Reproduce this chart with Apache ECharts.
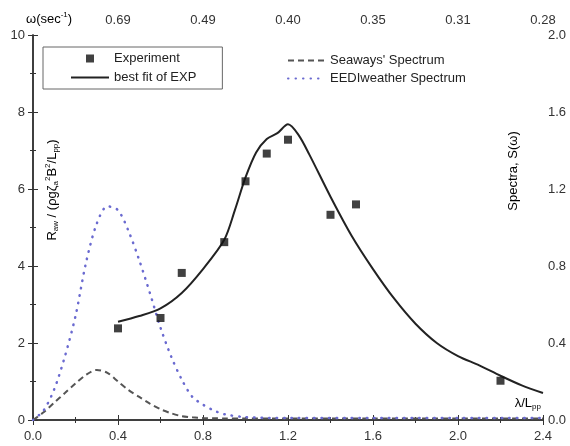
<!DOCTYPE html>
<html lang="en">
<head>
  <meta charset="UTF-8">
  <title>Added resistance vs wave length</title>
  <script src="https://cdn.jsdelivr.net/npm/echarts@6.0.0/dist/echarts.min.js"></script>
  <style>
    html, body { margin: 0; padding: 0; background: #fff; }
    #chart { width: 570px; height: 446px; }
  </style>
</head>
<body>
  <div id="chart"></div>
  <script>
    // experiment points
    const expLambda = [0.4, 0.6, 0.7, 0.9, 1.0, 1.1, 1.2, 1.4, 1.52, 2.2];
    const expRaw = [2.38, 2.65, 3.82, 4.62, 6.2, 6.92, 7.28, 5.33, 5.6, 1.02];

    // best fit curve
    const fitLambda = [0.4, 0.5, 0.6, 0.7, 0.8, 0.9, 0.95, 1.0, 1.05, 1.1, 1.15, 1.2, 1.25, 1.3, 1.4, 1.5, 1.6, 1.7, 1.8, 1.9, 2.0, 2.1, 2.2, 2.3, 2.4];
    const fitRaw = [2.55, 2.7, 2.9, 3.3, 3.92, 4.68, 5.45, 6.3, 6.95, 7.3, 7.45, 7.68, 7.4, 6.9, 5.8, 4.78, 3.92, 3.15, 2.5, 2.0, 1.66, 1.42, 1.15, 0.9, 0.7];

    // wave spectra (right axis)
    const specLambda = [0, 0.05, 0.1, 0.15, 0.2, 0.25, 0.3, 0.35, 0.4, 0.45, 0.5, 0.55, 0.6, 0.65, 0.7, 0.75, 0.8, 0.85, 0.9, 1.0, 1.2, 1.6, 2.0, 2.4];
    const seaways = [0, 0.04, 0.09, 0.14, 0.19, 0.235, 0.26, 0.245, 0.2, 0.155, 0.12, 0.085, 0.056, 0.035, 0.02, 0.014, 0.01, 0.009, 0.008, 0.008, 0.008, 0.008, 0.008, 0.008];
    const eedi = [0, 0.05, 0.16, 0.33, 0.54, 0.82, 1.02, 1.11, 1.09, 0.98, 0.83, 0.66, 0.48, 0.33, 0.21, 0.12, 0.08, 0.05, 0.03, 0.015, 0.01, 0.01, 0.01, 0.01];

    // top axis (omega) labels
    const omegaLabels = ['', '0.69', '0.49', '0.40', '0.35', '0.31', '0.28'];

    const pairs = (xs, ys) => xs.map((x, i) => [x, ys[i]]);

    const font = 'Liberation Sans, Arial, sans-serif';
    const txt = '#333';

    const axisBase = {
      axisLine: { show: true, lineStyle: { color: '#333', width: 1.5 } },
      axisTick: { show: true, inside: true, length: 5, lineStyle: { color: '#333' } },
      minorTick: { show: true, splitNumber: 2, length: 3, lineStyle: { color: '#333' } },
      splitLine: { show: false },
      minorSplitLine: { show: false }
    };

    const chart = echarts.init(document.getElementById('chart'), null, { renderer: 'canvas' });

    const rich = {
      n: { fontSize: 13, fontFamily: font, color: txt, lineHeight: 16 },
      b: { fontSize: 8, fontFamily: font, color: txt, lineHeight: 10, verticalAlign: 'bottom' },
      t: { fontSize: 8, fontFamily: font, color: txt, lineHeight: 10, verticalAlign: 'top' }
    };

    const option = {
      animation: false,
      backgroundColor: '#fff',
      grid: { left: 33, right: 27, top: 35, bottom: 26, outerBoundsMode: 'none' },
      legend: [
        {
          left: 43, top: 47,
          orient: 'vertical',
          padding: [5, 26, 5, 27],
          itemGap: 6, itemWidth: 38, itemHeight: 8,
          borderColor: '#666', borderWidth: 1,
          textStyle: { fontSize: 13, fontFamily: font, color: '#222' },
          data: [
            { name: 'Experiment', icon: 'path://M0,0H10V10H0Z' },
            { name: 'best fit of EXP', itemStyle: { opacity: 0 } }
          ]
        },
        {
          left: 287, top: 54,
          orient: 'vertical',
          padding: 0,
          itemGap: 5, itemWidth: 37, itemHeight: 8,
          itemStyle: { opacity: 0 },
          textStyle: { fontSize: 13, fontFamily: font, color: '#222' },
          data: ["Seaways' Spectrum", 'EEDIweather Spectrum']
        }
      ],
      xAxis: [
        Object.assign({}, axisBase, {
          type: 'value', position: 'bottom', min: 0, max: 2.4, interval: 0.4,
          axisLabel: { margin: 10, fontSize: 13, fontFamily: font, color: txt, formatter: v => v.toFixed(1) }
        }),
        Object.assign({}, axisBase, {
          type: 'value', position: 'top', min: 0, max: 2.4, interval: 0.4,
          axisLabel: { margin: 8, fontSize: 13, fontFamily: font, color: txt,
            formatter: v => omegaLabels[Math.round(v / 0.4)] || '' }
        })
      ],
      yAxis: [
        Object.assign({}, axisBase, {
          type: 'value', position: 'left', min: 0, max: 10, interval: 2,
          axisLabel: { margin: 8, fontSize: 13, fontFamily: font, color: txt }
        }),
        Object.assign({}, axisBase, {
          type: 'value', position: 'right', min: 0, max: 2.0, interval: 0.4,
          axisLabel: { margin: 5, fontSize: 13, fontFamily: font, color: txt, formatter: v => v.toFixed(1) }
        })
      ],
      graphic: [
        {
          type: 'text', x: 52, y: 190, rotation: Math.PI / 2,
          style: { text: '{n|R}{b|aw}{n| / (ρgζ}{b|a}{t|2}{n|B}{t|2}{n|/L}{b|pp}{n|)}', rich: rich, align: 'center', verticalAlign: 'middle' }
        },
        {
          type: 'text', x: 513, y: 171, rotation: Math.PI / 2,
          style: { text: '{n|Spectra, S(ω)}', rich: rich, align: 'center', verticalAlign: 'middle' }
        },
        {
          type: 'text', x: 541, y: 403,
          style: { text: '{n|λ/L}{b|pp}', rich: rich, align: 'right', verticalAlign: 'middle' }
        },
        {
          type: 'text', x: 26, y: 19,
          style: { text: '{n|ω(sec}{t|-1}{n|)}', rich: rich, align: 'left', verticalAlign: 'middle' }
        }
      ],
      series: [
        {
          name: 'Experiment', type: 'scatter', xAxisIndex: 0, yAxisIndex: 0,
          symbol: 'rect', symbolSize: 8, itemStyle: { color: '#111' },
          data: pairs(expLambda, expRaw), z: 5
        },
        {
          name: 'best fit of EXP', type: 'line', xAxisIndex: 0, yAxisIndex: 0,
          symbol: 'none', smooth: 0.3, itemStyle: { color: '#222' },
          lineStyle: { color: '#222', width: 2 },
          data: pairs(fitLambda, fitRaw)
        },
        {
          name: "Seaways' Spectrum", type: 'line', xAxisIndex: 0, yAxisIndex: 1,
          symbol: 'none', smooth: 0.3, itemStyle: { color: '#555' },
          lineStyle: { color: '#555', width: 2, type: [6, 4] },
          data: pairs(specLambda, seaways)
        },
        {
          name: 'EEDIweather Spectrum', type: 'line', xAxisIndex: 0, yAxisIndex: 1,
          symbol: 'none', smooth: 0.3, itemStyle: { color: '#6a6ad0' },
          lineStyle: { color: '#6a6ad0', width: 2.5, type: [0.5, 7], cap: 'round' },
          data: pairs(specLambda, eedi)
        }
      ]
    };

    chart.setOption(option);
  </script>
</body>
</html>
